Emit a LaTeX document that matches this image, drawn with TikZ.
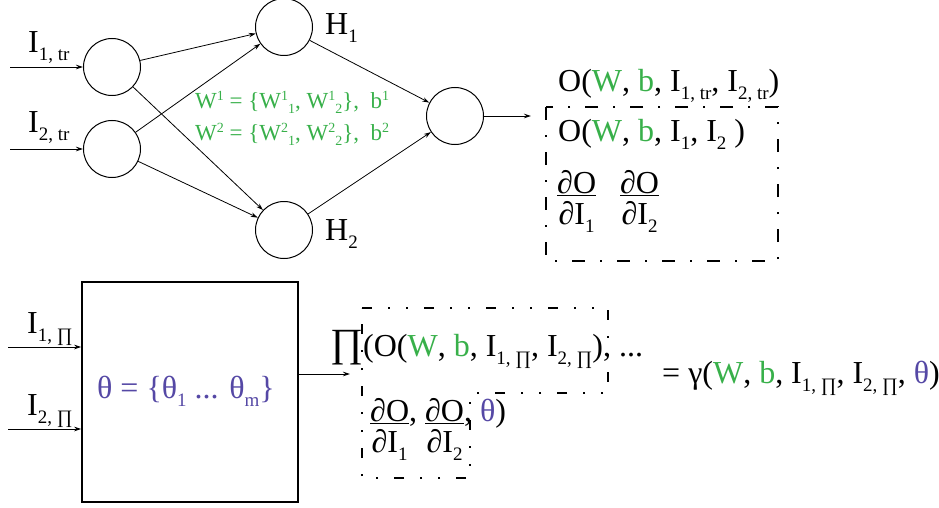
\documentclass[tikz,border=0pt]{standalone}
\usepackage{fontspec}
\setmainfont{Liberation Serif}
\usetikzlibrary{arrows.meta}
\definecolor{gr}{RGB}{56,176,74}
\definecolor{pu}{RGB}{85,72,165}
\newcommand\sx[3]{\raisebox{#2}{\fontsize{#1}{#1}\selectfont #3}}
\newcommand\lo[1]{\sx{19}{-8pt}{#1}}
\newcommand\glo[1]{\sx{14}{-5pt}{#1}}
\newcommand\ghi[1]{\sx{14}{8pt}{#1}}
\newcommand\G[1]{\textcolor{gr}{#1}}
\newcommand\Pu[1]{\textcolor{pu}{#1}}
\newcommand\dfr[1]{\vtop{\halign{\hfil##\hfil\cr ∂O\cr\noalign{\kern1.5pt\hrule height 1.3pt\kern5pt}∂I\lo{#1}\cr}}}
\begin{document}
\begin{tikzpicture}[x=1pt,y=-1pt,
  circ/.style={draw,circle,minimum size=57pt,inner sep=0pt,line width=1pt},
  arr/.style={-{Stealth[length=7pt,width=4.5pt]},line width=0.8pt},
  txt/.style={anchor=base west,inner sep=0pt,font=\fontsize{32}{38}\selectfont},
  gtxt/.style={anchor=base west,inner sep=0pt,text=gr,font=\fontsize{23}{27}\selectfont},
  dd1/.style={line width=1.5pt,dash pattern=on 13pt off 15pt on 2pt off 15pt},
  dd2/.style={line width=1.5pt,dash pattern=on 10pt off 16pt on 2pt off 16pt on 2pt off 16pt}]
\useasboundingbox (0,0) rectangle (939,508);
% top network
\node[circ] (in1) at (112,67) {};
\node[circ] (in2) at (112,149) {};
\node[circ] (h1) at (284,27) {};
\node[circ] (h2) at (284,230) {};
\node[circ] (out) at (455,116) {};
\coordinate (s1) at (10,67);
\coordinate (s2) at (10,149);
\coordinate (oend) at (531,116);
\draw[arr] (s1) -- (in1);
\draw[arr] (s2) -- (in2);
\draw[arr] (in1) -- (h1);
\draw[arr] (in1) -- (h2);
\draw[arr] (in2) -- (h1);
\draw[arr] (in2) -- (h2);
\draw[arr] (h1) -- (out);
\draw[arr] (h2) -- (out);
\draw[arr] (out) -- (oend);
\node[txt] (il1) at (28,53) {I\lo{1, tr}};
\node[txt] (il2) at (28,132) {I\lo{2, tr}};
\node[txt] (hl1) at (325,35) {H\lo{1}};
\node[txt] (hl2) at (325,240) {H\lo{2}};
\node[gtxt] (w1) at (195,109) {W\ghi{1} = \{W\ghi{1}\glo{1}, W\ghi{1}\glo{2}\},\ \ b\ghi{1}};
\node[gtxt] (w2) at (195,140) {W\ghi{2} = \{W\ghi{2}\glo{1}, W\ghi{2}\glo{2}\},\ \ b\ghi{2}};
\node[txt] (olab) at (558,92) {O(\G{W}, \G{b}, I\lo{1, tr}, I\lo{2, tr})};
\coordinate (b1a) at (546,107);
\coordinate (b1b) at (778,261);
\draw[dd1] (b1a) rectangle (b1b);
\node[txt] (oin) at (558,142) {O(\G{W}, \G{b}, I\lo{1}, I\lo{2} )};
\node[txt] (dfa) at (557,193) {\dfr{1}\hspace{24pt}\dfr{2}};
% bottom
\node[draw,line width=1.6pt,minimum width=216pt,minimum height=220pt,inner sep=0pt] (box) at (190,392) {};
\coordinate (t1) at (8,347);
\coordinate (t2) at (8,429);
\draw[arr] (t1) -- (box.west |- t1);
\draw[arr] (t2) -- (box.west |- t2);
\node[txt] (ip1) at (27,333) {I\lo{1, ∏}};
\node[txt] (ip2) at (27,415) {I\lo{2, ∏}};
\node[txt,anchor=base] (th) at (186,398) {\Pu{θ = \{θ\lo{1} ... θ\lo{m}\}}};
\coordinate (pa) at (350,374);
\draw[arr] (box.east |- pa) -- (pa);
\draw[dd2] (362,308) -- (608,308) -- (608,393) -- (470,393) -- (470,478) -- (362,478) -- cycle;
\node[txt] (pl) at (330,356) {{\fontsize{40}{40}\selectfont ∏}(O(\G{W}, \G{b}, I\lo{1, ∏}, I\lo{2, ∏}), ...};
\node[txt] (gam) at (662,383) {= γ(\G{W}, \G{b}, I\lo{1, ∏}, I\lo{2, ∏}, \Pu{θ})};
\node[txt] (dfb) at (370,421) {\dfr{1}, \dfr{2}, \Pu{θ})};
\end{tikzpicture}
\end{document}
